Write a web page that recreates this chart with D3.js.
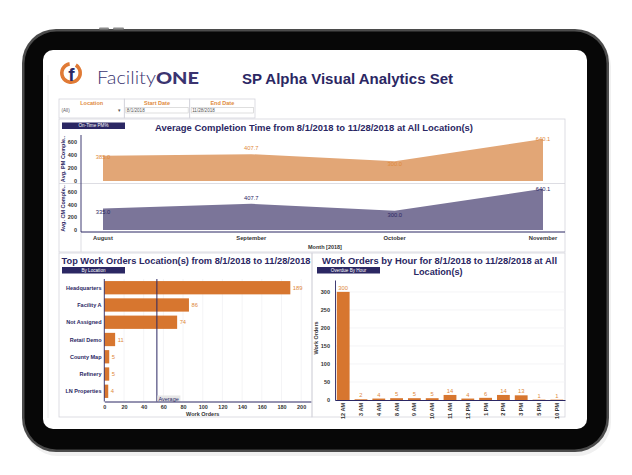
<!DOCTYPE html>
<html><head><meta charset="utf-8">
<script src="https://cdn.jsdelivr.net/npm/d3@7"></script>
<style>html,body{margin:0;padding:0;background:#fff;}svg{display:block;font-family:"Liberation Sans",Arial,sans-serif;}</style>
</head><body>
<svg id="c" width="632" height="475"></svg>
<script>
// ---------- DATA ----------
const months = ["August", "September", "October", "November"];
const monthDates = ["2018-08-01", "2018-09-01", "2018-10-01", "2018-11-01"];
const pmValues = [385.0, 407.7, 300.0, 640.1];
const cmValues = [335.0, 407.7, 300.0, 640.1];
const completionTicks = [0, 200, 400, 600];

const locations = ["Headquarters", "Facility A", "Not Assigned", "Retail Demo", "County Map", "Refinery", "LN Properties"];
const locationCounts = [189, 86, 74, 11, 5, 5, 4];
const locationTicks = [0, 20, 40, 60, 80, 100, 120, 140, 160, 180, 200];

const hours = ["12 AM", "3 AM", "4 AM", "8 AM", "9 AM", "10 AM", "11 AM", "12 PM", "1 PM", "2 PM", "3 PM", "5 PM", "10 PM"];
const hourCounts = [300, 2, 4, 5, 5, 5, 14, 4, 6, 14, 13, 1, 1];
const hourTicks = [0, 50, 100, 150, 200, 250, 300];

const filterLabels = ["Location", "Start Date", "End Date"];
const filterValues = ["(All)", "8/1/2018", "11/28/2018"];

// ---------- STYLE ----------
const NAVY = "#2b2763", ORANGE = "#d7762f", LORANGE = "#e2a676", PURPLE = "#7b7599", LABELOR = "#e08a3c", GRID = "#d4d4dc";
const svg = d3.select("#c");

// tablet
svg.append("rect").attr("x", 24).attr("y", 33).attr("width", 587).attr("height", 423).attr("rx", 34).attr("fill", "#f0f0f0");
svg.append("rect").attr("x", 22).attr("y", 29).attr("width", 587).attr("height", 423).attr("rx", 34).attr("fill", "#4b4b4b");
svg.append("rect").attr("x", 24.5).attr("y", 31.5).attr("width", 582).attr("height", 418).attr("rx", 32).attr("fill", "#070707");
[[99, 10], [113, 11]].forEach(b => svg.append("rect").attr("x", b[0]).attr("y", 27.5).attr("width", b[1]).attr("height", 2).attr("rx", 1).attr("fill", "#8a8a8a"));
svg.append("rect").attr("x", 43).attr("y", 50).attr("width", 544).attr("height", 379).attr("rx", 10).attr("fill", "#fff");
svg.append("line").attr("x1", 48).attr("x2", 48).attr("y1", 75).attr("y2", 418).attr("stroke", "#ececec");

// logo
const logo = svg.append("g").attr("transform", "translate(71,73)");
logo.append("path").attr("d", d3.arc()({innerRadius: 7.4, outerRadius: 11, startAngle: 0.55, endAngle: 2 * Math.PI - 0.15})).attr("fill", "#e07a35");
logo.append("text").attr("x", 0.5).attr("y", 8).attr("text-anchor", "middle").attr("font-size", 19).attr("font-weight", "bold").attr("fill", NAVY).attr("font-family", "'Liberation Sans', sans-serif").text("f");
const lt = svg.append("text").attr("x", 97).attr("y", 83.5).attr("font-size", 17.5).attr("fill", "#3b3470").attr("font-family", "Lato, 'Noto Sans', sans-serif").attr("textLength", 102).attr("lengthAdjust", "spacingAndGlyphs");
lt.append("tspan").attr("font-weight", 300).text("Facility");
lt.append("tspan").attr("font-weight", 900).text("ONE");

svg.append("text").attr("x", 242).attr("y", 83.5).attr("font-size", 14).attr("font-weight", "bold").attr("fill", NAVY).attr("textLength", 211).attr("lengthAdjust", "spacingAndGlyphs").text("SP Alpha Visual Analytics Set");

// filters
const fx = d3.scaleBand().domain(filterLabels).range([59, 255]);
filterLabels.forEach((f, i) => {
  const x = fx(f), w = fx.bandwidth();
  svg.append("rect").attr("x", x).attr("y", 99).attr("width", w).attr("height", 19).attr("fill", "none").attr("stroke", GRID).attr("stroke-width", 0.8);
  svg.append("text").attr("x", x + w / 2).attr("y", 104.5).attr("text-anchor", "middle").attr("font-size", 5.5).attr("font-weight", "bold").attr("fill", "#e08a3c").text(f);
  if (i > 0) svg.append("rect").attr("x", x + 1.5).attr("y", 107.5).attr("width", w - 3).attr("height", 5.5).attr("fill", "#fff").attr("stroke", "#c9c9c9").attr("stroke-width", 0.6);
  svg.append("text").attr("x", x + 2.5).attr("y", 112).attr("font-size", 4.6).attr("fill", "#555").text(filterValues[i]);
  if (i === 0) svg.append("text").attr("x", x + w - 6).attr("y", 112).attr("font-size", 4.6).attr("fill", "#555").text("▾");
});

function button(x, y, label) {
  svg.append("rect").attr("x", x).attr("y", y).attr("width", 63).attr("height", 6.5).attr("fill", NAVY);
  svg.append("text").attr("x", x + 31.5).attr("y", y + 4.8).attr("text-anchor", "middle").attr("font-size", 4.6).attr("fill", "#fff").text(label);
}
function panel(x, y, w, h) {
  svg.append("rect").attr("x", x).attr("y", y).attr("width", w).attr("height", h).attr("fill", "none").attr("stroke", GRID).attr("stroke-width", 0.8);
}

// ---------- UPPER PANEL ----------
panel(59, 119, 506, 133);
button(62, 122.5, "On-Time PM%");
svg.append("text").attr("x", 155).attr("y", 131).attr("font-size", 9.5).attr("font-weight", "bold").attr("fill", NAVY).attr("textLength", 318).attr("lengthAdjust", "spacingAndGlyphs").text("Average Completion Time from 8/1/2018 to 11/28/2018 at All Location(s)");

const parse = d3.timeParse("%Y-%m-%d");
const dates = monthDates.map(parse);
const xT = d3.scaleTime().domain([dates[0], dates[3]]).range([103, 543]);
const subs = [
  {vals: pmValues, top: 135, bottom: 181, fill: LORANGE, lab: LABELOR, title: "Avg. PM Comple..", place: [3, -4, 5, 2]},
  {vals: cmValues, top: 185, bottom: 230, fill: PURPLE, lab: NAVY, title: "Avg. CM Comple..", place: [6, -4, 6, 2]}
];
svg.append("line").attr("x1", 59).attr("x2", 565).attr("y1", 183.5).attr("y2", 183.5).attr("stroke", GRID).attr("stroke-width", 0.8);
subs.forEach(s => {
  const y = d3.scaleLinear().domain([0, 700]).range([s.bottom, s.top]);
  const ax = svg.append("g").attr("transform", "translate(81,0)").call(d3.axisLeft(y).tickValues(completionTicks).tickSize(0).tickPadding(4));
  ax.select(".domain").remove();
  ax.selectAll("text").attr("font-size", 5.5).attr("font-weight", "bold").attr("fill", "#333").attr("font-family", "Liberation Sans, Arial");
  const area = d3.area().x((d, i) => xT(dates[i])).y0(y(0)).y1(d => y(d));
  svg.append("path").datum(s.vals).attr("d", area).attr("fill", s.fill);
  s.vals.forEach((v, i) => {
    svg.append("text").attr("x", xT(dates[i])).attr("y", y(v) + s.place[i]).attr("text-anchor", "middle").attr("font-size", 5.8).attr("fill", s.lab).text(v.toFixed(1));
  });
  svg.append("text").attr("transform", `translate(64.5,${(s.top + s.bottom) / 2 + 1}) rotate(-90)`).attr("text-anchor", "middle").attr("font-size", 5.5).attr("font-weight", "bold").attr("fill", NAVY).text(s.title);
});
svg.append("line").attr("x1", 81).attr("x2", 81).attr("y1", 135).attr("y2", 232).attr("stroke", NAVY).attr("stroke-width", 0.9);
svg.append("line").attr("x1", 81).attr("x2", 81).attr("y1", 232).attr("y2", 252).attr("stroke", GRID).attr("stroke-width", 0.8);
svg.append("line").attr("x1", 81).attr("x2", 565).attr("y1", 232).attr("y2", 232).attr("stroke", NAVY).attr("stroke-width", 1);
months.forEach((m, i) => {
  svg.append("text").attr("x", xT(dates[i])).attr("y", 240).attr("text-anchor", "middle").attr("font-size", 5.8).attr("font-weight", "bold").attr("fill", "#333").text(m);
});
svg.append("text").attr("x", 325).attr("y", 248.5).attr("text-anchor", "middle").attr("font-size", 5.5).attr("font-weight", "bold").attr("fill", "#333").text("Month [2018]");

// ---------- BOTTOM LEFT ----------
panel(59, 253, 253, 164);
svg.append("text").attr("x", 61.5).attr("y", 263.5).attr("font-size", 9.5).attr("font-weight", "bold").attr("fill", NAVY).attr("textLength", 249).attr("lengthAdjust", "spacingAndGlyphs").text("Top Work Orders Location(s) from 8/1/2018 to 11/28/2018");
button(62, 267, "By Location");
const xL = d3.scaleLinear().domain([0, 210]).range([104.3, 311]);
const yL = d3.scaleBand().domain(locations).range([279, 400]).paddingInner(0.23).paddingOuter(0.12);
locationTicks.slice(1).forEach(t => svg.append("line").attr("x1", xL(t)).attr("x2", xL(t)).attr("y1", 279).attr("y2", 401).attr("stroke", "#f1f1f4").attr("stroke-width", 0.8));
svg.selectAll(".lbar").data(locationCounts).enter().append("rect").attr("x", xL(0)).attr("y", (d, i) => yL(locations[i])).attr("width", d => xL(d) - xL(0)).attr("height", yL.bandwidth()).attr("fill", ORANGE);
locationCounts.forEach((d, i) => {
  svg.append("text").attr("x", xL(d) + 2.5).attr("y", yL(locations[i]) + yL.bandwidth() / 2 + 2).attr("font-size", 5.8).attr("fill", LABELOR).text(d);
  svg.append("text").attr("x", 101.5).attr("y", yL(locations[i]) + yL.bandwidth() / 2 + 2).attr("text-anchor", "end").attr("font-size", 5.5).attr("font-weight", "bold").attr("fill", NAVY).text(locations[i]);
});
const avg = d3.mean(locationCounts);
svg.append("line").attr("x1", xL(avg)).attr("x2", xL(avg)).attr("y1", 279).attr("y2", 401.5).attr("stroke", NAVY).attr("stroke-width", 1);
svg.append("rect").attr("x", xL(avg) + 0.5).attr("y", 395.5).attr("width", 23).attr("height", 6).attr("fill", "#e6e6e6");
svg.append("text").attr("x", xL(avg) + 1.5).attr("y", 400.5).attr("font-size", 5.5).attr("fill", NAVY).text("Average");
svg.append("line").attr("x1", 104.3).attr("x2", 104.3).attr("y1", 279).attr("y2", 401.5).attr("stroke", NAVY).attr("stroke-width", 0.9);
const axL = svg.append("g").attr("transform", "translate(0,401.5)").call(d3.axisBottom(xL).tickValues(locationTicks).tickSize(0).tickPadding(4));
axL.select(".domain").attr("stroke", NAVY).attr("stroke-width", 1);
axL.selectAll("text").attr("font-size", 5.5).attr("font-weight", "bold").attr("fill", "#333").attr("font-family", "Liberation Sans, Arial");
svg.append("text").attr("x", xL(100)).attr("y", 415.5).attr("text-anchor", "middle").attr("font-size", 5.5).attr("font-weight", "bold").attr("fill", "#333").text("Work Orders");

// ---------- BOTTOM RIGHT ----------
panel(312, 253, 253, 164);
svg.append("text").attr("x", 322).attr("y", 263.5).attr("font-size", 9.5).attr("font-weight", "bold").attr("fill", NAVY).attr("textLength", 235).attr("lengthAdjust", "spacingAndGlyphs").text("Work Orders by Hour for 8/1/2018 to 11/28/2018 at All");
svg.append("text").attr("x", 413.5).attr("y", 274.5).attr("font-size", 9.5).attr("font-weight", "bold").attr("fill", NAVY).attr("textLength", 49).attr("lengthAdjust", "spacingAndGlyphs").text("Location(s)");
button(317, 267, "Overdue By Hour");
const xH = d3.scaleBand().domain(hours).range([335, 565]).paddingInner(0.28).paddingOuter(0.1);
const yH = d3.scaleLinear().domain([0, 333]).range([400, 280]);
hourTicks.slice(1).forEach(t => svg.append("line").attr("x1", 335).attr("x2", 565).attr("y1", yH(t)).attr("y2", yH(t)).attr("stroke", "#f1f1f4").attr("stroke-width", 0.8));
svg.selectAll(".hbar").data(hourCounts).enter().append("rect").attr("x", (d, i) => xH(hours[i])).attr("y", d => yH(d)).attr("width", xH.bandwidth()).attr("height", d => yH(0) - yH(d)).attr("fill", ORANGE);
hourCounts.forEach((d, i) => svg.append("text").attr("x", xH(hours[i]) + xH.bandwidth() / 2).attr("y", yH(d) - 2).attr("text-anchor", "middle").attr("font-size", 5.8).attr("fill", LABELOR).text(d));
const axY = svg.append("g").attr("transform", "translate(335,0)").call(d3.axisLeft(yH).tickValues(hourTicks).tickSize(0).tickPadding(5));
axY.select(".domain").attr("stroke", NAVY).attr("stroke-width", 0.9);
axY.selectAll("text").attr("font-size", 5.5).attr("font-weight", "bold").attr("fill", "#333").attr("font-family", "Liberation Sans, Arial");
const axH = svg.append("g").attr("transform", "translate(0,400)").call(d3.axisBottom(xH).tickSize(0).tickPadding(3));
axH.select(".domain").attr("stroke", NAVY).attr("stroke-width", 1);
axH.selectAll("text").attr("font-size", 5.5).attr("font-weight", "bold").attr("fill", "#333").attr("font-family", "Liberation Sans, Arial")
  .attr("transform", "rotate(-90)").attr("text-anchor", "end").attr("dy", "0.35em").attr("x", -3).attr("y", 0);
svg.append("text").attr("transform", "translate(318,338) rotate(-90)").attr("text-anchor", "middle").attr("font-size", 5.5).attr("font-weight", "bold").attr("fill", "#333").text("Work Orders");
</script>
</body></html>
